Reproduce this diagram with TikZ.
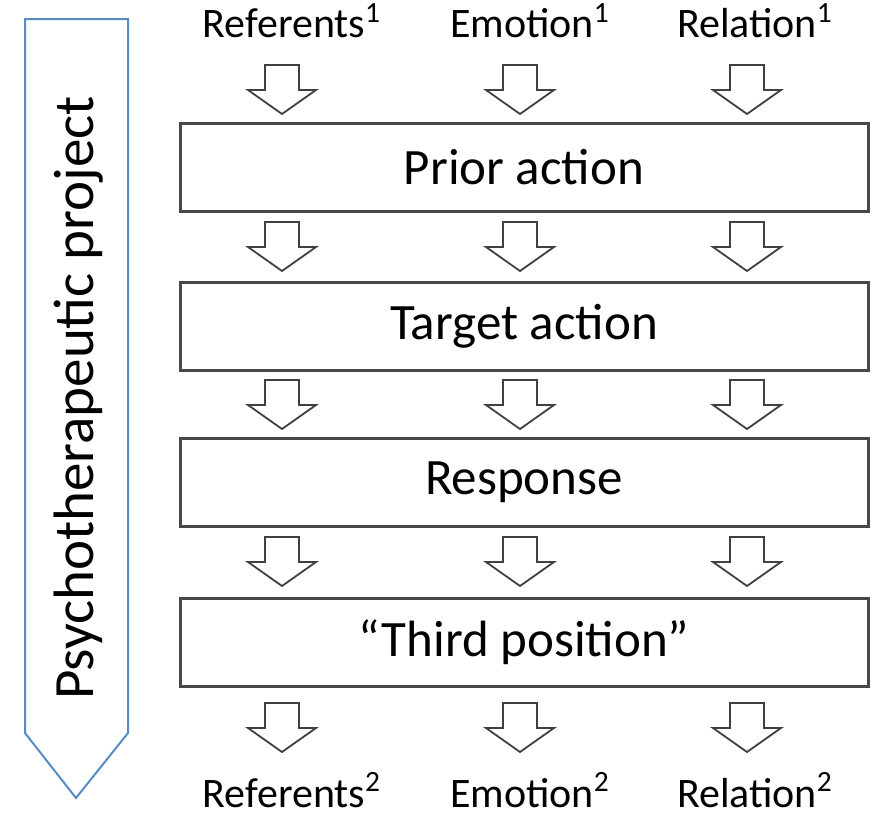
\documentclass[tikz,border=0pt]{standalone}
\usepackage{fontspec}
\setmainfont{Carlito}
\definecolor{projblue}{RGB}{88,138,196}
\definecolor{boxgray}{RGB}{72,72,72}
\tikzset{
  stagebox/.style={draw=boxgray, line width=1.5pt, minimum width=344pt, minimum height=44pt, inner sep=0pt, font=\fontsize{25.5}{30}\selectfont},
  downarr/.style={draw=black!75, line width=0.9pt, fill=white, line join=miter},
  termlabel/.style={anchor=base, inner sep=0pt, font=\fontsize{21}{25}\selectfont}
}

\begin{document}
\begin{tikzpicture}[x=0.5pt,y=-0.5pt]
  \useasboundingbox (0,0) rectangle (880,819);
  % project arrow on the left
  \draw[projblue, line width=1pt] (25,19) -- (128,19) -- (128,733) -- (76,798) -- (25,733) -- cycle;
  \node[rotate=90, font=\fontsize{28.5}{32}\selectfont] (proj) at (79,398) {Psychotherapeutic project};
  % stages
  \node[stagebox] (prior) at (524,167) {Prior action};
  \node[stagebox] (target) at (524,326) {Target action};
  \node[stagebox] (resp) at (524,482.5) {Response};
  \node[stagebox] (third) at (524,642.5) {“Third position”};
  % block arrows
  \foreach \x in {282,520,747}{
    \foreach \y in {65,222,380,537,703}{
      \draw[downarr] ({\x-17},\y) -- ({\x+17},\y) -- ({\x+17},{\y+25}) -- ({\x+34},{\y+25})
        -- (\x,{\y+49}) -- ({\x-34},{\y+25}) -- ({\x-17},{\y+25}) -- cycle;
    }
  }
  % labels
  \node[termlabel] (ref1) at (284,38) {Referents\rlap{\textsuperscript{1}}};
  \node[termlabel] (emo1) at (522,38) {Emotion\rlap{\textsuperscript{1}}};
  \node[termlabel] (rel1) at (747,38) {Relation\rlap{\textsuperscript{1}}};
  \node[termlabel] (ref2) at (284,807) {Referents\rlap{\textsuperscript{2}}};
  \node[termlabel] (emo2) at (522,807) {Emotion\rlap{\textsuperscript{2}}};
  \node[termlabel] (rel2) at (747,807) {Relation\rlap{\textsuperscript{2}}};
\end{tikzpicture}
\end{document}
